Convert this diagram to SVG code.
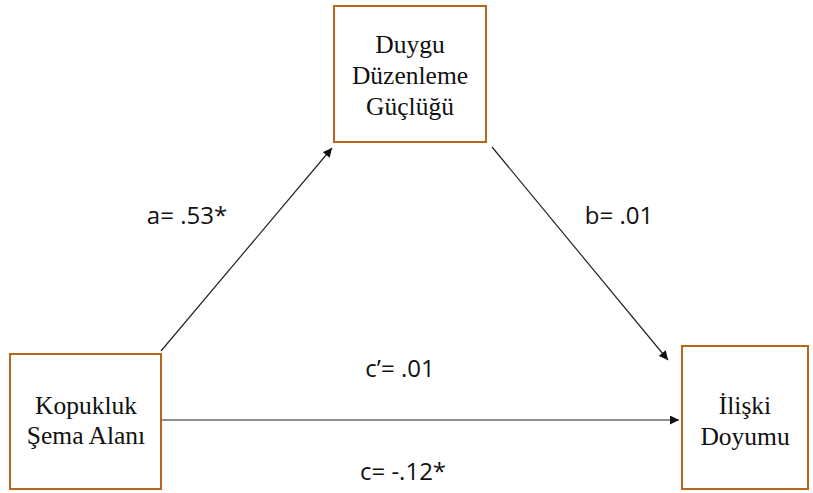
<svg xmlns="http://www.w3.org/2000/svg" width="813" height="493" viewBox="0 0 813 493">
<style>
.box{fill:#fff;stroke:#B8661A;stroke-width:2}
.nt{font-family:"Liberation Serif","Times New Roman",serif;font-size:25.5px;fill:#111;text-anchor:middle}
.lb{font-family:"Open Sans","Liberation Sans",sans-serif;font-size:24px;fill:#111;text-anchor:middle}
.ed{stroke:#222;stroke-width:1.2;fill:none;marker-end:url(#ah)}
</style>
<defs>
<marker id="ah" viewBox="0 0 10 10" refX="10" refY="5" markerWidth="10" markerHeight="9" markerUnits="userSpaceOnUse" orient="auto">
<path d="M0,0 L10,5 L0,10 z" fill="#111"/>
</marker>
</defs>
<rect width="813" height="493" fill="#fff"/>
<g id="connectors">
<line class="ed" x1="161" y1="351" x2="332" y2="148"/>
<line class="ed" x1="492" y1="147" x2="668" y2="360"/>
<line class="ed" x1="161" y1="420" x2="679" y2="420"/>
<text class="lb" x="187" y="224">a= .53*</text>
<text class="lb" x="619" y="224">b= .01</text>
<text class="lb" x="400" y="377">c’= .01</text>
<text class="lb" x="403" y="480">c= -.12*</text>
</g>
<g id="node-duygu">
<rect class="box" x="334" y="6" width="152" height="136"/>
<text class="nt" x="410" y="53">Duygu</text>
<text class="nt" x="410" y="84">Düzenleme</text>
<text class="nt" x="410" y="115">Güçlüğü</text>
</g>
<g id="node-kopukluk">
<rect class="box" x="10" y="354" width="151" height="135"/>
<text class="nt" x="86" y="414">Kopukluk</text>
<text class="nt" x="86" y="444">Şema Alanı</text>
</g>
<g id="node-iliski">
<rect class="box" x="682" y="346" width="126" height="143"/>
<text class="nt" x="745" y="414">İlişki</text>
<text class="nt" x="745" y="445">Doyumu</text>
</g>
</svg>
